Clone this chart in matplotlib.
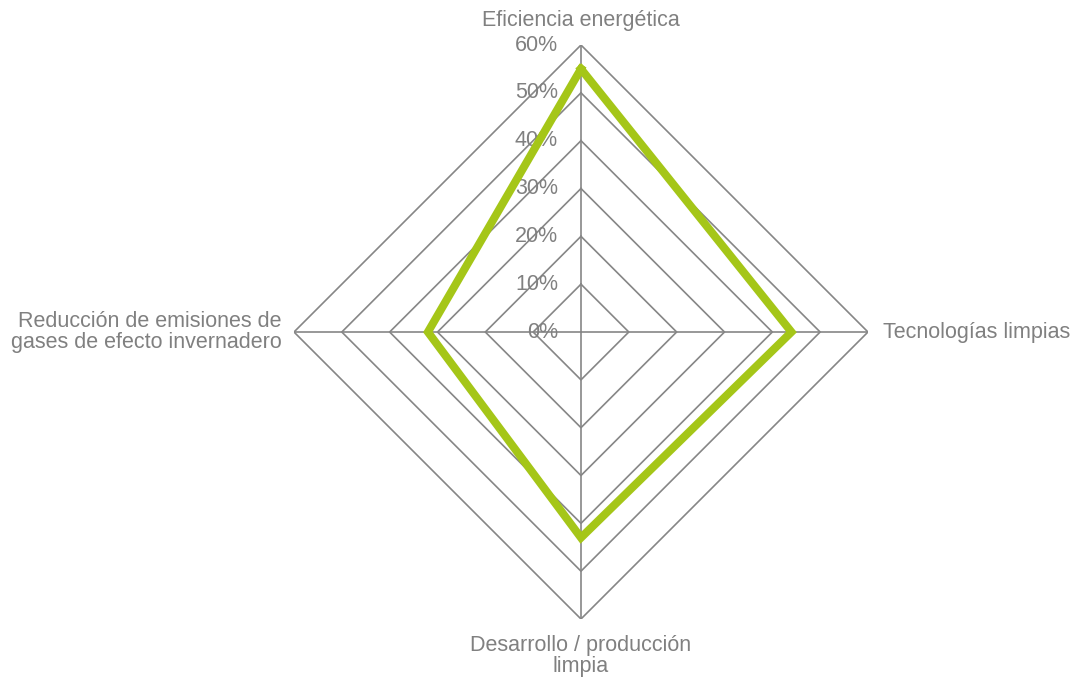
import numpy as np
import matplotlib
matplotlib.use("Agg")
from matplotlib import pyplot as plt

plt.rcParams["font.family"] = ["Liberation Sans", "DejaVu Sans"]

categories = [
    "Eficiencia energética",
    "Tecnologías limpias",
    "Desarrollo / producción\nlimpia",
    "Reducción de emisiones de\ngases de efecto invernadero",
]
values = [0.55, 0.44, 0.43, 0.32]
rings = [0.1, 0.2, 0.3, 0.4, 0.5, 0.6]
ring_labels = ["10%", "20%", "30%", "40%", "50%", "60%"]

GRID = "#868686"
TEXT = "#808080"
GREEN = "#a5c618"
FS = 15.5

fig = plt.figure(figsize=(10.74, 6.8), dpi=100)
ax = fig.add_axes([0.2737, 0.0897, 0.5345, 0.8441], projection="polar")
ax.set_theta_zero_location("N")
ax.set_theta_direction(-1)
ax.set_ylim(0, 0.6)
ax.grid(False)
ax.spines["polar"].set_visible(False)
ax.set_xticks([])
ax.set_yticks([])
ax.patch.set_alpha(0)

n = len(categories)
angles = np.linspace(0, 2 * np.pi, n, endpoint=False)
closed = np.append(angles, angles[0])

# polygon grid
for r in rings:
    ax.plot(closed, [r] * (n + 1), color=GRID, lw=1.2, zorder=1)
for a in angles:
    ax.plot([a, a], [0, 0.6], color=GRID, lw=1.2, zorder=1)

# tick labels along the top spoke
for r, lab in zip([0.0] + rings, ["0%"] + ring_labels):
    ax.annotate(lab, xy=(0, r), xytext=(-23, 0), textcoords="offset pixels",
                ha="right", va="center", fontsize=FS, color=TEXT,
                annotation_clip=False, zorder=2)

# data series
ax.plot(closed, np.append(values, values[0]), color=GREEN, lw=5.8,
        solid_joinstyle="miter", zorder=3)

# category labels
offsets = [((0, 25), "center", "center"),
           ((15, 0), "left", "center"),
           ((0, -37), "center", "center"),
           ((-12, 0), "right", "center")]
for a, lab, (off, ha, va) in zip(angles, categories, offsets):
    ax.annotate(lab, xy=(a, 0.6), xytext=off, textcoords="offset pixels",
                ha=ha, va=va, fontsize=FS, color=TEXT, linespacing=1.05,
                annotation_clip=False)

fig.savefig("out.png", dpi=100)
